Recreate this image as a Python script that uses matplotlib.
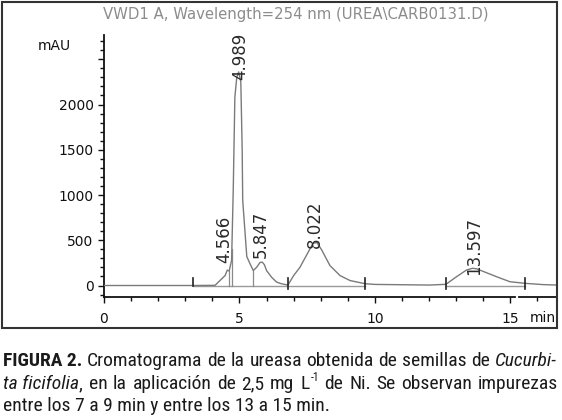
import numpy as np
import matplotlib
matplotlib.use("Agg")
import matplotlib.pyplot as plt
from matplotlib import font_manager
from matplotlib.lines import Line2D
from matplotlib.patches import Rectangle

# ---------------- data ----------------
time_min = [0.0, 3.3, 4.1, 4.28, 4.47, 4.55, 4.62, 4.71, 4.77, 4.83, 4.90, 4.97,
            5.05, 5.10, 5.12, 5.20, 5.27, 5.39, 5.51, 5.63, 5.76, 5.84, 5.92, 6.00,
            6.19, 6.37, 6.56, 6.79, 7.0, 7.23, 7.53, 7.71, 7.86, 8.04, 8.34, 8.71,
            9.08, 9.63, 10.0, 12.0, 12.62, 13.01, 13.38, 13.6, 13.75, 14.12, 14.49,
            14.98, 15.54, 16.2, 16.72]
signal_mau = [0, 0, 2, 55, 110, 170, 160, 280, 1050, 2080, 2300, 2360,
              2250, 1500, 940, 610, 320, 240, 165, 200, 255, 258, 230, 165,
              90, 38, 18, 5, 110, 200, 365, 465, 475, 390, 220, 110,
              55, 20, 12, 5, 13, 97, 171, 190, 185, 141, 97,
              42, 24, 10, 5]

peak_rt = [4.566, 4.989, 5.847, 8.022, 13.597]
peak_labels = ["4.566", "4.989", "5.847", "8.022", "13.597"]
peak_apex_mau = [170, 2360, 258, 475, 190]

baseline_start = [3.3, 12.62]
baseline_end = [9.63, 15.54]
boundary_marks = [3.3, 6.79, 9.63, 12.62, 15.54]
drop_lines = [4.62, 4.72, 5.51]

y_major = [0, 500, 1000, 1500, 2000, 2500]
y_major_labels = ["0", "500", "1000", "1500", "2000", ""]
x_major = [0, 5, 10, 15]
x_major_labels = ["0", "5", "10", "15"]

title_text = "VWD1 A, Wavelength=254 nm (UREA\\CARB0131.D)"

# ---------------- figure ----------------
W, H = 562, 420
fig = plt.figure(figsize=(W / 100, H / 100), dpi=100)
fig.patch.set_facecolor("white")

L, R, T, B = 104, 557, 35, 297
ax = fig.add_axes([L / W, 1 - B / H, (R - L) / W, (B - T) / H])
ax.set_xlim(0, 16.72)
ax.set_ylim(-127, 2768)

ax.plot(time_min, signal_mau, color="#7a7a7a", lw=1.0, zorder=3)

# integration baseline and markers
for s, e in zip(baseline_start, baseline_end):
    ax.plot([s, e], [0, 0], color="#9a9a9a", lw=1.0, zorder=2)
for b in boundary_marks:
    lo = 0 if b == boundary_marks[0] else -40
    ax.plot([b, b], [lo, 85], color="#222222", lw=1.2, zorder=4)
for d in drop_lines:
    ax.plot([d, d], [0, np.interp(d, time_min, signal_mau)], color="#8a8a8a", lw=0.9, zorder=2)

# peak labels
lab_dx = [-3, 1, -2, -6, 2]
lab_dy = [7, -8, 4, -5, -7]
for rt, lab, apex, dx, dy in zip(peak_rt, peak_labels, peak_apex_mau, lab_dx, lab_dy):
    ax.annotate(lab, xy=(rt, apex), xytext=(dx * 0.72, dy * 0.72), textcoords="offset points",
                rotation=90, ha="center", va="bottom", fontsize=12,
                family="DejaVu Sans", color="#2a2a2a", zorder=5)

# axes styling
for sp in ["top", "right", "bottom"]:
    ax.spines[sp].set_visible(False)
ax.spines["left"].set_linewidth(1.3)
ax.spines["left"].set_color("#111111")
ax.add_line(Line2D([0, (515 - L) / (R - L)], [0, 0], transform=ax.transAxes,
                   color="#111111", lw=1.3, clip_on=False))
ax.add_line(Line2D([(519 - L) / (R - L), 1], [0, 0], transform=ax.transAxes,
                   color="#111111", lw=1.3, clip_on=False))

ax.set_yticks(y_major)
ax.set_yticklabels(y_major_labels)
ax.set_yticks(np.arange(-100, 2701, 100), minor=True)
ax.set_xticks(x_major)
ax.set_xticklabels(x_major_labels)
ax.set_xticks(np.arange(0, 17, 1), minor=True)
ax.tick_params(axis="both", which="major", length=4.5, width=1.0, color="#111111",
               labelsize=10, labelcolor="#111111")
ax.tick_params(axis="both", which="minor", length=2.8, width=1.0, color="#111111")
ax.tick_params(axis="y", which="major", pad=3)
ax.tick_params(axis="x", which="major", pad=6)
for lbl in ax.get_xticklabels() + ax.get_yticklabels():
    lbl.set_family("DejaVu Sans")

fig.text(54 / W, 1 - 46 / H, "mAU", ha="center", va="center", fontsize=10,
         family="DejaVu Sans", color="#111111")
fig.text(543 / W, 1 - 318 / H, "min", ha="center", va="center", fontsize=10,
         family="DejaVu Sans", color="#111111")
fig.text(296 / W, 1 - 14 / H, title_text, ha="center", va="center", fontsize=10.7,
         family="DejaVu Sans", color="#8c8c8c")

# outer frame
fig.add_artist(Rectangle((1.5 / W, 1 - 328 / H), (557 - 1.5) / W, (328 - 1.5) / H,
                         transform=fig.transFigure, fill=False, lw=1.5,
                         edgecolor="#333333"))

# ---------------- caption ----------------
avail = {f.name for f in font_manager.fontManager.ttflist}
cap_font = "Liberation Sans"
for cand in ["Liberation Sans Narrow", "Roboto Condensed", "Open Sans Condensed", "Liberation Sans"]:
    if cand in avail:
        cap_font = cand
        break

cap_size = 14.0
cap_color = "#1a1a1a"
caption_lines = [
    [("FIGURA 2.", "bold"), ("Cromatograma", ""), ("de", ""), ("la", ""), ("ureasa", ""),
     ("obtenida", ""), ("de", ""), ("semillas", ""), ("de", ""), ("Cucurbi-", "italic")],
    [("ta ficifolia", "italic"), (",", "join"), ("en", ""), ("la", ""), ("aplicación", ""),
     ("de", ""), ("2,5", ""), ("mg", ""), ("L", ""), ("-1", "sup"), ("de", ""), ("Ni.", ""),
     ("Se", ""), ("observan", ""), ("impurezas", "")],
    [("entre los 7 a 9 min y entre los 13 a 15 min.", "")],
]
caption_baselines = [366, 389, 411]
justify = [True, True, False]

renderer = fig.canvas.get_renderer()
x_left, x_right = 3, 557


def make(txt, style):
    kw = dict(fontsize=cap_size, family=cap_font, color=cap_color, va="baseline", ha="left")
    if style == "bold":
        kw["fontweight"] = "bold"
    if style == "italic":
        kw["fontstyle"] = "italic"
    if style == "sup":
        kw["fontsize"] = cap_size * 0.6
    return fig.text(0, 0, txt, **kw)


def measure(txt, style=""):
    t = make(txt, style)
    w = t.get_window_extent(renderer).width
    t.remove()
    return w


space_w = measure("a a") - measure("aa")

for line, base, just in zip(caption_lines, caption_baselines, justify):
    arts = []
    for txt, st in line:
        a = make(txt, st)
        w = a.get_window_extent(renderer).width
        arts.append((a, w, st))
    n_gaps = sum(1 for i, (_, _, st) in enumerate(arts) if i > 0 and st not in ("join", "sup"))
    total_w = sum(w for _, w, _ in arts)
    if just and n_gaps > 0:
        gap = (x_right - x_left - total_w) / n_gaps
    else:
        gap = space_w
    x = x_left
    for i, (a, w, st) in enumerate(arts):
        if i > 0 and st not in ("join", "sup"):
            x += gap
        yb = base
        if st == "sup":
            yb = base - 8
            x += 1
        a.set_position((x / W, 1 - yb / H))
        x += w

fig.savefig("out.png", dpi=100, facecolor="white")
